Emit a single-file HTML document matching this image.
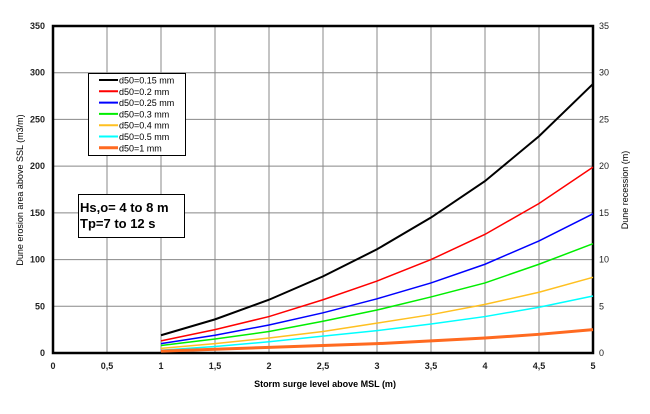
<!DOCTYPE html>
<html><head><meta charset="utf-8"><style>
body{margin:0;background:#fff}
svg text{font-family:"Liberation Sans",Arial,sans-serif}
</style></head><body>
<svg id="c" width="650" height="409" xmlns="http://www.w3.org/2000/svg"></svg>
<script>
const xs=[1,1.5,2,2.5,3,3.5,4,4.5,5];
const xTicks=["0","0,5","1","1,5","2","2,5","3","3,5","4","4,5","5"];
const yTicks=[0,50,100,150,200,250,300,350];
const y2Ticks=[0,5,10,15,20,25,30,35];
const sBlack=[19,36,57,82,111,145,184,232,288];
const sRed=[13,25,39,57,77,100,127,160,199];
const sBlue=[10,19,30,43,58,75,95,120,149];
const sGreen=[8,15,23,34,46,60,75,95,117];
const sYellow=[5,10,16,23,32,41,52,65,81];
const sCyan=[3,7,12,18,24,31,39,49,61];
const sOrange=[2,4,6,8,10,13,16,20,25];
const names=["d50=0.15 mm","d50=0.2 mm","d50=0.25 mm","d50=0.3 mm","d50=0.4 mm","d50=0.5 mm","d50=1 mm"];
const series=[sBlack,sRed,sBlue,sGreen,sYellow,sCyan,sOrange];
const colors=["#000000","#ff0000","#0000ff","#00ee00","#ffc020","#00ffff","#ff6a20"];
const widths=[2,1.5,1.5,1.5,1.5,1.5,3];
const L=53,R=593,T=26,B=353;
const X=v=>L+(v/5)*(R-L), Y=v=>B-(v/350)*(B-T);
const svg=document.getElementById('c'),NS="http://www.w3.org/2000/svg";
function mk(t,a,txt){const e=document.createElementNS(NS,t);for(const k in a)e.setAttribute(k,a[k]);if(txt!=null)e.textContent=txt;svg.appendChild(e);return e;}
xTicks.forEach((t,i)=>{const x=X(i*0.5);
 if(i>0&&i<10){const g=mk('line',{x1:x,x2:x,y1:T,y2:B,stroke:'#888','stroke-width':1});
 
 }
 const tx=mk('text',{x:x,y:B+16,'font-size':9,'text-anchor':'middle','font-weight':'bold',fill:'#222'},t);
 
 });
yTicks.forEach((t,i)=>{const y=Y(t);
 if(t>0&&t<350){const g=mk('line',{x1:L,x2:R,y1:y,y2:y,stroke:'#888','stroke-width':1});
 
 }
 const tx=mk('text',{x:45,y:y+3,'font-size':9,'text-anchor':'end','font-weight':'bold',fill:'#222'},t);
 
 
 const t2=mk('text',{x:599,y:Y(y2Ticks[i]*10)+3,'font-size':9,fill:'#222'},y2Ticks[i]);
 
 });
const fr=mk('rect',{x:L,y:T,width:R-L,height:B-T,fill:'none',stroke:'#000','stroke-width':2.5});


series.forEach((s,k)=>{const p=mk('polyline',{points:s.map((v,i)=>X(xs[i])+','+Y(v)).join(' '),fill:'none',stroke:colors[k],'stroke-width':widths[k]});
 
 });
const lb=mk('rect',{x:88.5,y:73.5,width:97,height:82,fill:'#fff',stroke:'#000','stroke-width':1});


names.forEach((n,k)=>{const y=80+k*11.3;
 const l=mk('line',{x1:99,x2:118,y1:y,y2:y,stroke:colors[k],'stroke-width':k==6?3:2});
 
 
 const t=mk('text',{x:119,y:y+3.5,'font-size':9,fill:'#000'},n);
 
 });
const ib=mk('rect',{x:78.5,y:194.5,width:106,height:43,fill:'#fff',stroke:'#000','stroke-width':1});


const a1=mk('text',{x:80,y:212,'font-size':13,'font-weight':'bold'},'Hs,o= 4 to 8 m');


const a2=mk('text',{x:80,y:228,'font-size':13,'font-weight':'bold'},'Tp=7 to 12 s');


const xt=mk('text',{x:325,y:387,'font-size':9,'font-weight':'bold','text-anchor':'middle'},'Storm surge level above MSL (m)');


const yt=mk('text',{x:0,y:0,'font-size':9,'text-anchor':'middle',transform:'translate(23,190) rotate(-90)'},'Dune erosion area above SSL (m3/m)');


const y2t=mk('text',{x:0,y:0,'font-size':9,'text-anchor':'middle',transform:'translate(628,190) rotate(-90)'},'Dune recession (m)');


</script>
</body></html>
